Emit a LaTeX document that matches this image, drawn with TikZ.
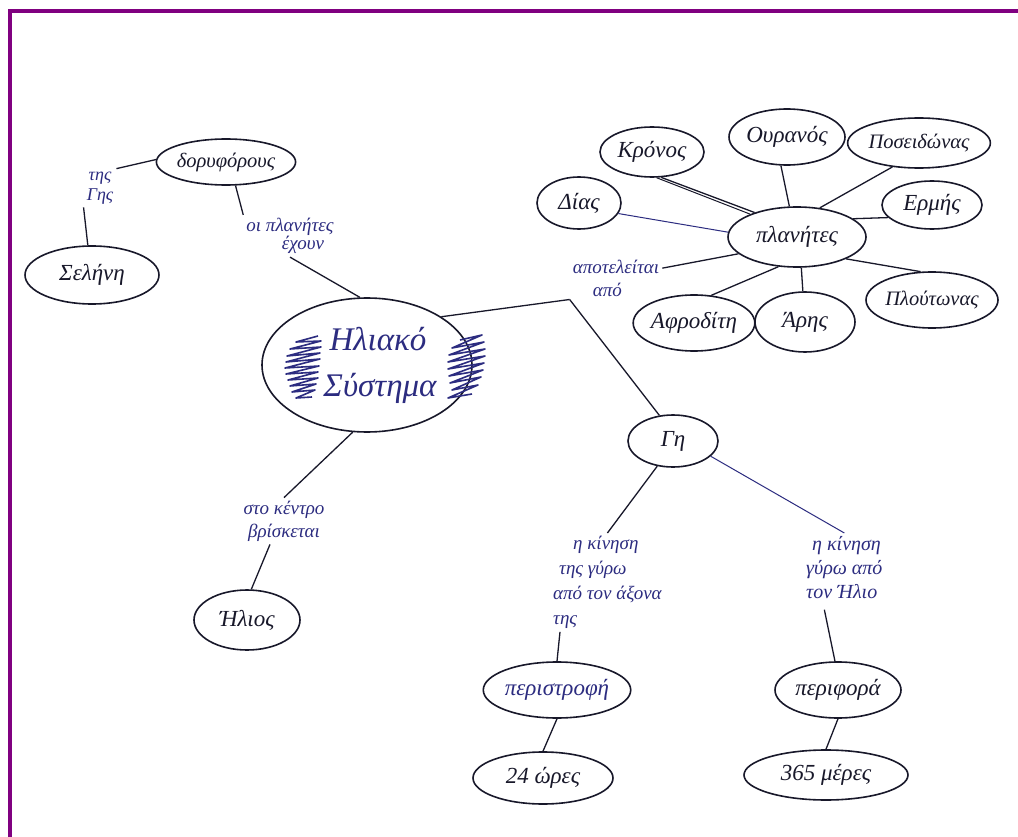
\documentclass[tikz,border=0pt]{standalone}
\usepackage{fontspec}
\setmainfont{Liberation Serif}
\usetikzlibrary{shapes.geometric}
\definecolor{ink}{RGB}{24,24,42}
\definecolor{blueink}{RGB}{44,44,128}
\definecolor{framecol}{RGB}{128,0,128}
\begin{document}
\begin{tikzpicture}[x=1pt,y=-1pt,
  concept/.style={draw=ink, line width=1.6pt, ellipse, inner sep=0pt, text=ink,
    font=\itshape\fontsize{23}{26}\selectfont},
  narrowtext/.style={font=\itshape\fontsize{20.5}{24}\selectfont},
  linklabel/.style={text=blueink, align=center, inner sep=3pt,
    font=\itshape\fontsize{19}{23}\selectfont},
  link/.style={draw=ink, line width=1.3pt},
  thinlink/.style={draw=blueink, line width=1pt},
  scribble/.style={draw=blueink, line width=1.6pt, line join=round},
]
\useasboundingbox (0,0) rectangle (1018,837);
\fill[white] (0,0) rectangle (1018,837);
% frame along the top and left edges
\fill[framecol] (8,9) rectangle (1018,13);
\fill[framecol] (8,9) rectangle (12,837);

% central concept
\node[concept, minimum width=210pt, minimum height=134pt, text=blueink,
  font=\itshape\fontsize{33}{46}\selectfont, align=center] (helio) at (367,365)
  {\hspace*{22pt}Ηλιακό\\\hspace*{26pt}Σύστημα};
\draw[scribble] (318,336) -- (296,342) -- (321,341) -- (290,349) -- (321,347) -- (287,356)
  -- (320,353) -- (286,362) -- (320,359) -- (285,368) -- (319,366) -- (286,374) -- (318,372)
  -- (288,380) -- (318,378) -- (290,386) -- (316,384) -- (292,392) -- (315,390) -- (296,398) -- (312,397);
\draw[scribble] (460,340) -- (482,335) -- (452,348) -- (484,342) -- (449,355) -- (485,349)
  -- (448,362) -- (485,356) -- (448,369) -- (484,363) -- (449,376) -- (483,370) -- (450,383)
  -- (481,377) -- (452,390) -- (478,385) -- (448,398) -- (472,394);

% satellites branch
\node[concept, narrowtext, minimum width=132pt, minimum height=46pt] (dor) at (226,162) {δορυφόρους};
\node[concept, minimum width=134pt, minimum height=58pt] (sel) at (92,275) {Σελήνη};
\node[linklabel, font=\itshape\fontsize{18}{20}\selectfont] (tis) at (100,188) {της\\Γης};
\node[linklabel, font=\itshape\fontsize{19}{16}\selectfont] (oipl) at (290,236) {οι πλανήτες\\\hspace*{26pt}έχουν};

% planets
\node[concept, minimum width=138pt, minimum height=60pt] (plan) at (797,237) {πλανήτες};
\node[linklabel, align=left] (apot) at (616,278) {αποτελείται\\\hspace*{20pt}από};
\node[concept, minimum width=104pt, minimum height=50pt] (kron) at (652,152) {Κρόνος};
\node[concept, minimum width=116pt, minimum height=56pt] (oura) at (787,137) {Ουρανός};
\node[concept, narrowtext, minimum width=130pt, minimum height=50pt] (pos) at (919,143) {Ποσειδώνας};
\node[concept, minimum width=100pt, minimum height=48pt] (erm) at (932,205) {Ερμής};
\node[concept, minimum width=84pt, minimum height=52pt] (dias) at (579,203) {Δίας};
\node[concept, narrowtext, minimum width=132pt, minimum height=56pt] (plout) at (932,300) {Πλούτωνας};
\node[concept, minimum width=120pt, minimum height=56pt] (afro) at (694,323) {Αφροδίτη};
\node[concept, minimum width=100pt, minimum height=60pt] (aris) at (805,322) {Άρης};

% Sun
\node[linklabel] (kentro) at (284,521) {στο κέντρο\\βρίσκεται};
\node[concept, minimum width=106pt, minimum height=60pt] (ilios) at (247,620) {Ήλιος};

% Earth
\node[concept, minimum width=90pt, minimum height=52pt] (gi) at (673,441) {Γη};
\node[linklabel, align=left, anchor=north west, font=\itshape\fontsize{19}{25}\selectfont]
  (kin1) at (550,533) {\hspace*{20pt}η κίνηση\\\hspace*{6pt}της γύρω\\από τον άξονα\\της};
\node[concept, minimum width=120pt, minimum height=56pt, text=blueink] (peri) at (557,690) {περιστροφή};
\node[concept, minimum width=140pt, minimum height=52pt] (ores) at (543,778) {24 ώρες};
\node[linklabel, align=left, anchor=north west, font=\itshape\fontsize{20}{24}\selectfont]
  (kin2) at (803,533) {\hspace*{6pt}η κίνηση\\γύρω από\\τον Ήλιο};
\node[concept, minimum width=126pt, minimum height=56pt] (perif) at (838,690) {περιφορά};
\node[concept, minimum width=164pt, minimum height=50pt] (meres) at (826,775) {365 μέρες};

% connectors
\draw[link] (dor.178) -- (tis.north east);
\draw[link] (tis.south west) -- (sel.98);
\draw[link] (dor.292) -- (oipl.north west);
\draw[link] (oipl.south) -- (helio.96);
\draw[link] (helio.33) -- (apot.south west);
\draw[link] (apot.south west) -- (gi.118);
\draw[link] (apot.12) -- (plan.196);

\draw[link] (kron.290) -- (plan.150);
\draw[link, line width=1pt] (kron.280) -- (plan.154);
\draw[link] (oura.258) -- (plan.104);
\draw[link] (pos.222) -- (plan.52);
\draw[link] (erm.196) -- (plan.18);
\draw[thinlink] (dias.345) -- (plan.176);
\draw[link] (plout.112) -- (plan.336);
\draw[link] (afro.58) -- (plan.238);
\draw[link] (aris.94) -- (plan.278);

\draw[link] (helio.258) -- (kentro.north);
\draw[link] ([xshift=-14pt]kentro.south) -- (ilios.82);

\draw[link] (gi.238) -- (kin1.north);
\draw[link] ([xshift=10pt]kin1.south west) -- (peri.north);
\draw[link] (peri.south) -- (ores.north);
\draw[thinlink] (gi.338) -- (kin2.north);
\draw[link] ([xshift=-20pt,yshift=-8pt]kin2.south) -- (perif.96);
\draw[link] (perif.south) -- (meres.north);
\end{tikzpicture}
\end{document}
